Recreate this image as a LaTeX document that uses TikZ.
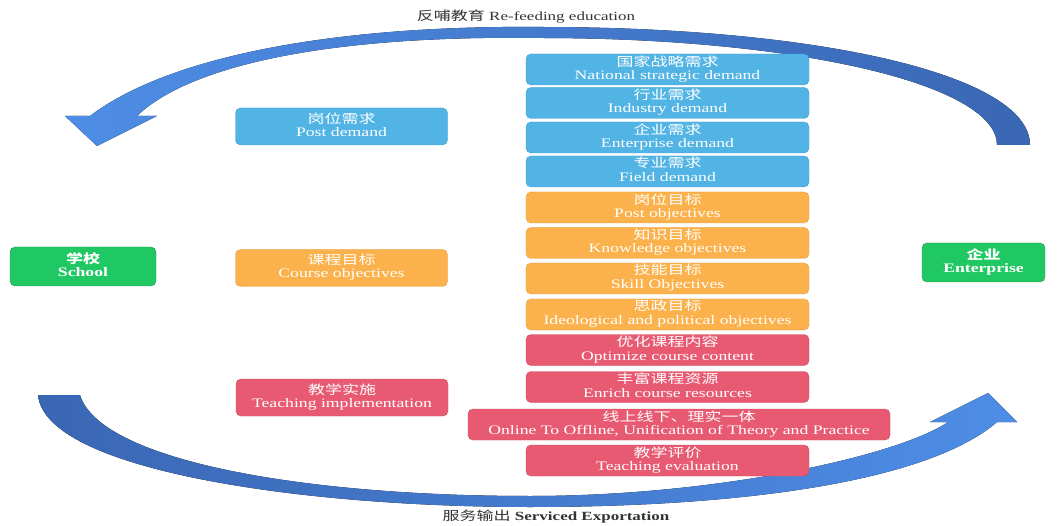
\documentclass[tikz,border=0pt]{standalone}
\usepackage{fontspec}
\usepackage{graphicx}
\setmainfont{Liberation Serif}
\newfontfamily\cjk{Noto Sans CJK SC}
\definecolor{dmdblue}{HTML}{52B4E4}
\definecolor{dmdline}{HTML}{3E9CD2}
\definecolor{objorange}{HTML}{FCB24C}
\definecolor{objline}{HTML}{E39A3A}
\definecolor{actred}{HTML}{E85A72}
\definecolor{actline}{HTML}{CC4860}
\definecolor{sidegreen}{HTML}{1FC862}
\definecolor{sideline}{HTML}{3C8A5C}
\definecolor{arrblue}{HTML}{4E8DE6}
\definecolor{arrdark}{HTML}{3A67B4}
\newcommand{\twoline}[2]{\scalebox{1.36}[1]{\begin{tabular}{@{}c@{}}{\cjk\fontsize{12.5}{13.5}\selectfont #1}\\#2\end{tabular}}}

\begin{document}
\begin{tikzpicture}
[x=1pt,y=-1pt,
 demand/.style={rectangle,rounded corners=5pt,draw=dmdline,fill=dmdblue,text=white,inner sep=0pt,minimum width=283pt,minimum height=31pt,font=\fontsize{13}{13.5}\selectfont},
 objective/.style={demand,draw=objline,fill=objorange},
 action/.style={demand,draw=actline,fill=actred},
 leftbox/.style={minimum width=212pt,minimum height=37pt},
 side/.style={rectangle,rounded corners=5pt,draw=sideline,fill=sidegreen,text=white,inner sep=0pt,minimum height=39pt,font=\fontsize{13}{13.5}\selectfont\bfseries},
 caption/.style={text=black!80,inner sep=0pt,font=\fontsize{12.5}{13.5}\selectfont}]
\useasboundingbox (0,0) rectangle (1059,526);
% big curved arrows
\fill[left color=arrblue,right color=arrdark]
  (1030,145) .. controls (1030,75) and (820,27) .. (540,27)
  .. controls (340,25) and (170,55) .. (90,116)
  -- (65,116) -- (97,146) -- (157,116) -- (137,116)
  .. controls (190,65) and (330,35) .. (540,38)
  .. controls (800,38) and (997,85) .. (997,145) -- cycle;
\fill[left color=arrdark,right color=arrblue]
  (38,395) .. controls (45,470) and (300,507) .. (530,507)
  .. controls (750,507) and (930,480) .. (997,422)
  -- (1017,422) -- (988,393) -- (930,422) -- (948,422)
  .. controls (900,455) and (720,496) .. (530,496)
  .. controls (300,496) and (100,460) .. (80,395) -- cycle;
\node[caption] (feed) at (526,17) {\scalebox{1.36}[1]{{\cjk 反哺教育} Re-feeding education}};
\node[caption] (export) at (556,517) {\scalebox{1.36}[1]{{\cjk 服务输出} \textbf{Serviced Exportation}}};
% school and enterprise
\node[side,minimum width=146pt] (school) at (83,266.5) {\twoline{学校}{School}};
\node[side,minimum width=123pt] (enterp) at (983.5,262.5) {\twoline{企业}{Enterprise}};
% left column
\node[demand,leftbox]    (post)   at (341.5,126.5) {\twoline{岗位需求}{Post demand}};
\node[objective,leftbox] (course) at (341.5,268)   {\twoline{课程目标}{Course objectives}};
\node[action,leftbox]    (teach)  at (342,397.5)   {\twoline{教学实施}{Teaching implementation}};
% middle column
\node[demand] (D1) at (667.5,69.5)  {\twoline{国家战略需求}{National strategic demand}};
\node[demand] (D2) at (667.5,103)   {\twoline{行业需求}{Industry demand}};
\node[demand] (D3) at (667.5,137.5) {\twoline{企业需求}{Enterprise demand}};
\node[demand] (D4) at (667.5,171.5) {\twoline{专业需求}{Field demand}};
\node[objective] (O1) at (667.5,207.5) {\twoline{岗位目标}{Post objectives}};
\node[objective] (O2) at (667.5,243)   {\twoline{知识目标}{Knowledge objectives}};
\node[objective] (O3) at (667.5,278.5) {\twoline{技能目标}{Skill Objectives}};
\node[objective] (O4) at (667.5,314.5) {\twoline{思政目标}{Ideological and political objectives}};
\node[action] (A1) at (667.5,350)   {\twoline{优化课程内容}{Optimize course content}};
\node[action] (A2) at (667.5,387)   {\twoline{丰富课程资源}{Enrich course resources}};
\node[action,minimum width=422pt] (A3) at (679,424.5) {\twoline{线上线下、理实一体}{Online To Offline, Unification of Theory and Practice}};
\node[action] (A4) at (667.5,460.5) {\twoline{教学评价}{Teaching evaluation}};
\end{tikzpicture}
\end{document}
